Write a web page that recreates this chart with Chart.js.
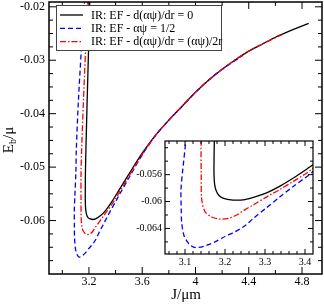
<!DOCTYPE html>
<html>
<head>
<meta charset="utf-8">
<script src="https://cdn.jsdelivr.net/npm/chart.js@4"></script>
<style>
  body { margin: 0; background: #fff; }
  #wrap { position: relative; width: 324px; height: 304px; }
  #inset { position: absolute; left: 130px; top: 136px; }
</style>
</head>
<body>
<div id="wrap">
  <canvas id="main" width="324" height="304"></canvas>
  <canvas id="inset" width="188" height="134"></canvas>
</div>
<script>
// series (J/mu, Eb/mu)
const seriesLabels = [
  "IR: EF - d(\u03b1\u03c8)/dr = 0",
  "IR: EF - \u03b1\u03c8 = 1/2",
  "IR: EF - d(\u03b1\u03c8)/dr = (\u03b1\u03c8)/2r"
];
const blackX = [3.206, 3.197, 3.186, 3.178, 3.1735, 3.1725, 3.1725, 3.174, 3.178, 3.185, 3.195, 3.21, 3.228, 3.25, 3.275, 3.304, 3.3375, 3.371, 3.404, 3.421, 3.5, 3.6, 3.7, 3.8, 3.9, 4.0, 4.1, 4.2, 4.3, 4.4, 4.5, 4.6, 4.7, 4.85];
const blackY = [-0.0185, -0.028, -0.038, -0.046, -0.051, -0.0545, -0.056, -0.0574, -0.0584, -0.0591, -0.0595, -0.0597, -0.0598, -0.0597, -0.0593, -0.0587, -0.0577, -0.0565, -0.0552, -0.0545, -0.0513, -0.0474, -0.0440, -0.0412, -0.0386, -0.0360, -0.0337, -0.0317, -0.0299, -0.0283, -0.0270, -0.0257, -0.0246, -0.0231];
const blueX = [3.168, 3.143, 3.12, 3.105, 3.1018, 3.094, 3.09, 3.0905, 3.0918, 3.0983, 3.1125, 3.1268, 3.15, 3.175, 3.2, 3.225, 3.25, 3.2708, 3.3043, 3.3375, 3.3708, 3.4043, 3.421, 3.5, 3.6, 3.7, 3.8, 3.9, 4.0, 4.1, 4.2, 4.35];
const blueY = [-0.0185, -0.028, -0.038, -0.0468, -0.051, -0.0555, -0.0582, -0.061, -0.0632, -0.0652, -0.06645, -0.06685, -0.0666, -0.066, -0.0652, -0.0645, -0.0636, -0.0625, -0.0609, -0.0593, -0.05775, -0.0563, -0.0555, -0.052, -0.0477, -0.0441, -0.0412, -0.0386, -0.036, -0.0337, -0.0317, -0.0292];
const redX = [3.193, 3.175, 3.158, 3.145, 3.1405, 3.1405, 3.1418, 3.15, 3.1668, 3.1875, 3.2083, 3.2293, 3.25, 3.2708, 3.3043, 3.3375, 3.3708, 3.4043, 3.421, 3.5, 3.6, 3.7, 3.8, 3.9, 4.0, 4.1, 4.2, 4.3, 4.4, 4.5, 4.65];
const redY = [-0.0185, -0.028, -0.038, -0.0468, -0.051, -0.056, -0.0597, -0.0615, -0.0623, -0.0626, -0.0625, -0.062, -0.0612, -0.0605, -0.0593, -0.0582, -0.057, -0.05575, -0.055, -0.0517, -0.0476, -0.0441, -0.0412, -0.0386, -0.036, -0.0337, -0.0317, -0.0299, -0.0283, -0.027, -0.0252];

// main axes ticks
const xMajorTicks = [3.2, 3.6, 4.0, 4.4, 4.8];
const xTickLabels = ["3.2", "3.6", "4", "4.4", "4.8"];
const xMinorTicks = [3.0, 3.4, 3.8, 4.2, 4.6];
const yMajorTicks = [-0.06, -0.05, -0.04, -0.03, -0.02];
const yTickLabels = ["-0.06", "-0.05", "-0.04", "-0.03", "-0.02"];
const yMinorTicks = [-0.0675, -0.065, -0.0625, -0.0575, -0.055, -0.0525, -0.0475, -0.045, -0.0425, -0.0375, -0.035, -0.0325, -0.0275, -0.025, -0.0225];

// inset ticks
const insetXMajor = [3.1, 3.2, 3.3, 3.4];
const insetXLabels = ["3.1", "3.2", "3.3", "3.4"];
const insetXMinor = [3.06, 3.08, 3.12, 3.14, 3.16, 3.18, 3.22, 3.24, 3.26, 3.28, 3.32, 3.34, 3.36, 3.38];
const insetYMajor = [-0.064, -0.06, -0.056];
const insetYLabels = ["-0.064", "-0.06", "-0.056"];
const insetYMinor = [-0.066, -0.062, -0.058, -0.054, -0.052];

const FONT = "'Liberation Serif', 'DejaVu Serif', serif";

function pts(xs, ys) { return xs.map((x, i) => ({ x: x, y: ys[i] })); }

function makeDatasets() {
  return [
    { label: seriesLabels[0], data: pts(blackX, blackY), borderColor: "#000", borderWidth: 1.3, order: 3 },
    { label: seriesLabels[1], data: pts(blueX, blueY), borderColor: "#0000ff", borderWidth: 1.3, borderDash: [5, 3], order: 2 },
    { label: seriesLabels[2], data: pts(redX, redY), borderColor: "#ff0000", borderWidth: 1.3, borderDash: [6, 2, 1.5, 2], order: 1 },
  ].map((d) => Object.assign(d, { showLine: true, pointRadius: 0, fill: false, tension: 0.3 }));
}

// inward ticks on all four sides plus the frame
const frameTicks = {
  id: "frameTicks",
  beforeDatasetsDraw(chart, args, o) {
    if (!o.fillArea) return;
    const a = chart.chartArea, ctx = chart.ctx;
    ctx.save();
    ctx.fillStyle = "#fff";
    ctx.fillRect(a.left, a.top, a.right - a.left, a.bottom - a.top);
    ctx.restore();
  },
  afterDatasetsDraw(chart, args, o) {
    const { ctx, chartArea: a } = chart;
    const sx = chart.scales.x, sy = chart.scales.y;
    ctx.save();
    ctx.strokeStyle = "#000";
    ctx.lineWidth = o.tickWidth;
    ctx.beginPath();
    const vx = (vals, len) => vals.forEach((v) => {
      const p = sx.getPixelForValue(v);
      ctx.moveTo(p, a.bottom); ctx.lineTo(p, a.bottom - len);
      ctx.moveTo(p, a.top); ctx.lineTo(p, a.top + len);
    });
    const vy = (vals, len) => vals.forEach((v) => {
      const p = sy.getPixelForValue(v);
      ctx.moveTo(a.left, p); ctx.lineTo(a.left + len, p);
      ctx.moveTo(a.right, p); ctx.lineTo(a.right - len, p);
    });
    vx(o.xMajor, o.major); vx(o.xMinor, o.minor);
    vy(o.yMajor, o.major); vy(o.yMinor, o.minor);
    ctx.stroke();
    ctx.lineWidth = o.frameWidth;
    ctx.strokeRect(a.left, a.top, a.right - a.left, a.bottom - a.top);
    ctx.restore();
  },
};

// legend box + axis titles for the main panel
const decor = {
  id: "decor",
  afterDraw(chart) {
    const ctx = chart.ctx;
    ctx.save();
    ctx.fillStyle = "#fff";
    ctx.strokeStyle = "#444";
    ctx.lineWidth = 1;
    ctx.fillRect(56.5, 5.5, 165, 45);
    ctx.strokeRect(56.5, 5.5, 165, 45);
    ctx.font = "12px " + FONT;
    ctx.textBaseline = "middle";
    chart.data.datasets.forEach((ds, i) => {
      const yy = 15 + i * 13.3;
      ctx.strokeStyle = ds.borderColor;
      ctx.lineWidth = ds.borderWidth;
      ctx.setLineDash(ds.borderDash || []);
      ctx.beginPath();
      ctx.moveTo(60, yy); ctx.lineTo(83, yy);
      ctx.stroke();
      ctx.setLineDash([]);
      ctx.fillStyle = "#000";
      ctx.fillText(ds.label, 91, yy + 0.5);
    });

    // x title
    ctx.font = "15px " + FONT;
    ctx.textAlign = "center";
    ctx.fillText("J/\u03bcm", 186, 295);

    // y title with subscript
    ctx.translate(9, 140);
    ctx.rotate(-Math.PI / 2);
    const big = "15px " + FONT, small = "10px " + FONT;
    ctx.font = big; const wE = ctx.measureText("E").width;
    ctx.font = small; const wb = ctx.measureText("b").width;
    ctx.font = big; const wr = ctx.measureText("/\u03bc").width;
    let x0 = -(wE + wb + wr) / 2;
    ctx.textAlign = "left";
    ctx.font = big; ctx.fillText("E", x0, 0);
    ctx.font = small; ctx.fillText("b", x0 + wE, 4);
    ctx.font = big; ctx.fillText("/\u03bc", x0 + wE + wb, 0);
    ctx.restore();
  },
};

function noPad(s) { s.paddingTop = 0; s.paddingBottom = 0; s.paddingLeft = 0; s.paddingRight = 0; }

const noGrid = { display: false, drawTicks: false, tickLength: 0 };

new Chart(document.getElementById("main").getContext("2d"), {
  type: "scatter",
  data: { datasets: makeDatasets() },
  options: {
    responsive: false, animation: false,
    layout: { padding: { top: 2, right: 2, left: 0, bottom: 0 } },
    plugins: {
      legend: { display: false }, tooltip: { enabled: false },
      frameTicks: { xMajor: xMajorTicks, xMinor: xMinorTicks, yMajor: yMajorTicks, yMinor: yMinorTicks, major: 7, minor: 4, tickWidth: 1, frameWidth: 1.5 },
    },
    scales: {
      x: {
        type: "linear", min: 2.9, max: 4.95,
        grid: noGrid, border: { display: false },
        afterBuildTicks: (s) => { s.ticks = xMajorTicks.map((v) => ({ value: v })); },
        afterFit: (s) => { s.height = 30; noPad(s); },
        ticks: { autoSkip: false, maxRotation: 0, padding: 1, color: "#000", font: { family: FONT, size: 12 },
          callback: (v, i) => xTickLabels[i] },
      },
      y: {
        min: -0.07, max: -0.0191,
        grid: noGrid, border: { display: false },
        afterBuildTicks: (s) => { s.ticks = yMajorTicks.map((v) => ({ value: v })); },
        afterFit: (s) => { s.width = 49; noPad(s); },
        ticks: { autoSkip: false, padding: 4, color: "#000", font: { family: FONT, size: 12 },
          callback: (v, i) => yTickLabels[i] },
      },
    },
  },
  plugins: [frameTicks, decor],
});

new Chart(document.getElementById("inset").getContext("2d"), {
  type: "scatter",
  data: { datasets: makeDatasets() },
  options: {
    responsive: false, animation: false,
    layout: { padding: { top: 5, right: 5, left: 0, bottom: 0 } },
    plugins: {
      legend: { display: false }, tooltip: { enabled: false },
      frameTicks: { xMajor: insetXMajor, xMinor: insetXMinor, yMajor: insetYMajor, yMinor: insetYMinor, major: 5, minor: 3, tickWidth: 1, frameWidth: 1.2, fillArea: true },
    },
    scales: {
      x: {
        type: "linear", min: 3.05, max: 3.42,
        grid: noGrid, border: { display: false },
        afterBuildTicks: (s) => { s.ticks = insetXMajor.map((v) => ({ value: v })); },
        afterFit: (s) => { s.height = 16; noPad(s); },
        ticks: { autoSkip: false, maxRotation: 0, padding: 2, color: "#000", font: { family: FONT, size: 10 },
          callback: (v, i) => insetXLabels[i] },
      },
      y: {
        min: -0.0678, max: -0.051,
        grid: noGrid, border: { display: false },
        afterBuildTicks: (s) => { s.ticks = insetYMajor.map((v) => ({ value: v })); },
        afterFit: (s) => { s.width = 35; noPad(s); },
        ticks: { autoSkip: false, padding: 3, color: "#000", font: { family: FONT, size: 10 },
          callback: (v, i) => insetYLabels[i] },
      },
    },
  },
  plugins: [frameTicks],
});
</script>
</body>
</html>
